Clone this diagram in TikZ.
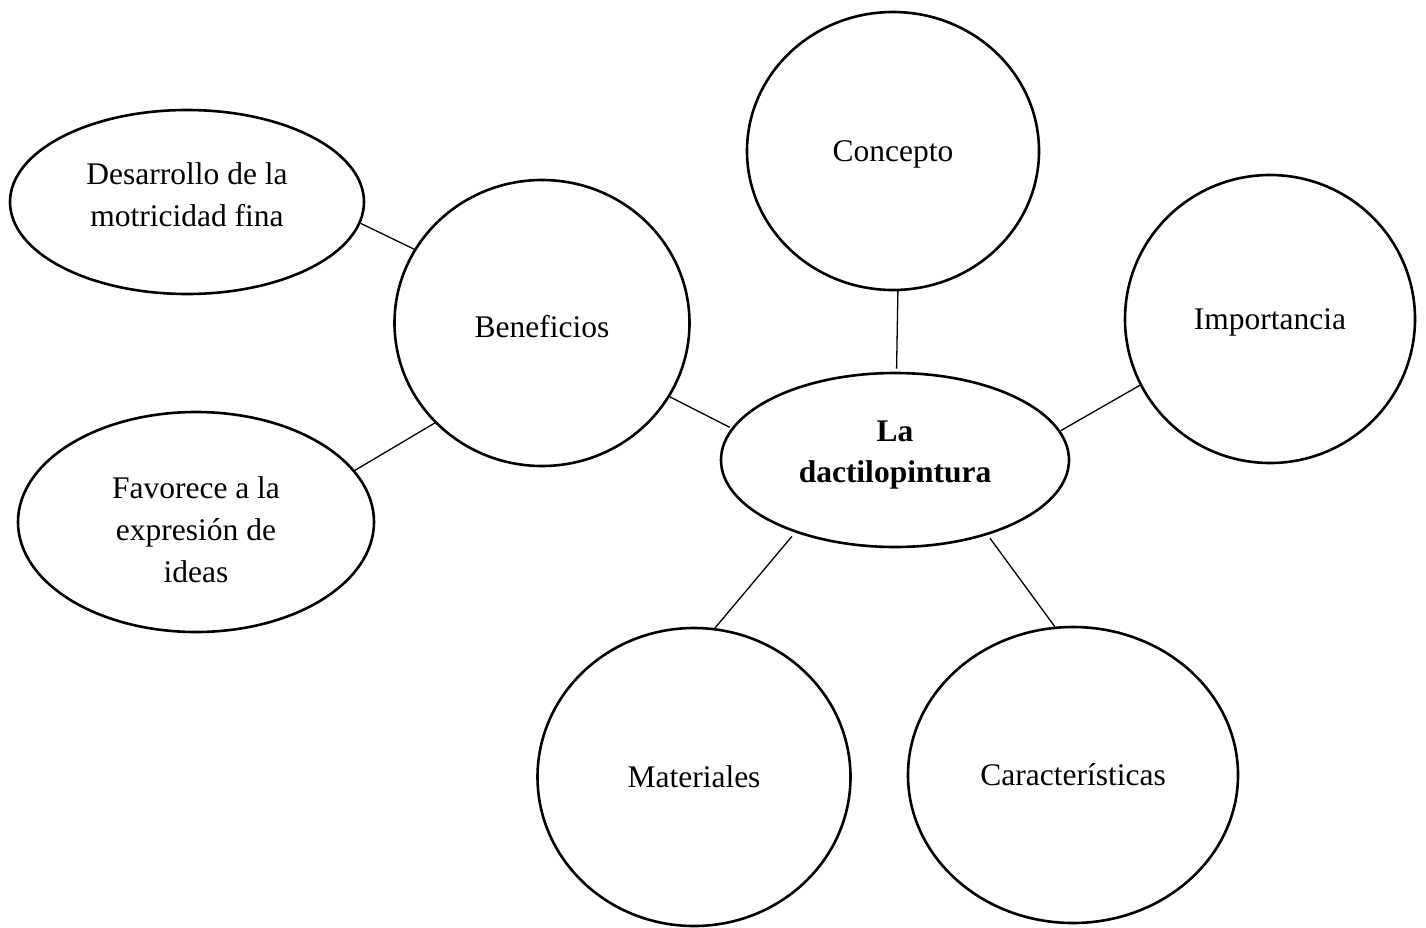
\documentclass[tikz,border=0pt]{standalone}
\usepackage{fontspec}
\setmainfont{Liberation Serif}
\usetikzlibrary{shapes.geometric}
\begin{document}
\begin{tikzpicture}[x=1pt,y=-1pt,
  bub/.style={draw, ellipse, line width=2.6pt, inner sep=0pt},
  lab/.style={align=center, inner sep=0pt, font=\fontsize{31.5}{42}\selectfont},
  blab/.style={align=center, inner sep=0pt, font=\fontsize{31.5}{41}\selectfont\bfseries},
  conn/.style={line width=1.3pt}]
\useasboundingbox (0,0) rectangle (1426,927);
% nodes
\node[bub, minimum width=292pt, minimum height=278pt,
  label={[lab, yshift=-3pt]center:Concepto}] (conc) at (893,151) {};
\node[bub, minimum width=290pt, minimum height=288pt,
  label={[lab, yshift=-3pt]center:Importancia}] (imp) at (1270,319) {};
\node[bub, minimum width=348pt, minimum height=174pt,
  label={[blab, yshift=5pt]center:{La\\dactilopintura}}] (dac) at (895,460) {};
\node[bub, minimum width=295pt, minimum height=286pt,
  label={[lab, yshift=-4pt]center:Beneficios}] (ben) at (542,323) {};
\node[bub, minimum width=354pt, minimum height=184pt,
  label={[lab, yshift=7pt]center:{Desarrollo de la\\motricidad fina}}] (des) at (187,202) {};
\node[bub, minimum width=356pt, minimum height=220pt,
  label={[lab, yshift=-8pt]center:{Favorece a la\\expresión de\\ideas}}] (fav) at (196,522) {};
\node[bub, minimum width=313pt, minimum height=298pt,
  label={[lab]center:Materiales}] (mat) at (694,777) {};
\node[bub, minimum width=330pt, minimum height=296pt,
  label={[lab]center:Características}] (car) at (1073,775) {};
% connectors
\draw[conn, shorten >=3pt] (conc.272.5) -- (dac.89);
\draw[conn, shorten >=2pt] (ben.-30.6) -- (dac.169.5);
\draw[conn] (imp.207.2) -- (dac.10.9);
\draw[conn, shorten <=5pt] (dac.216) -- (mat.82);
\draw[conn, shorten <=4pt] (dac.321) -- (car.97.7);
\draw[conn] (des.353.2) -- (ben.150.6);
\draw[conn] (fav.18) -- (ben.223.4);
\end{tikzpicture}
\end{document}
